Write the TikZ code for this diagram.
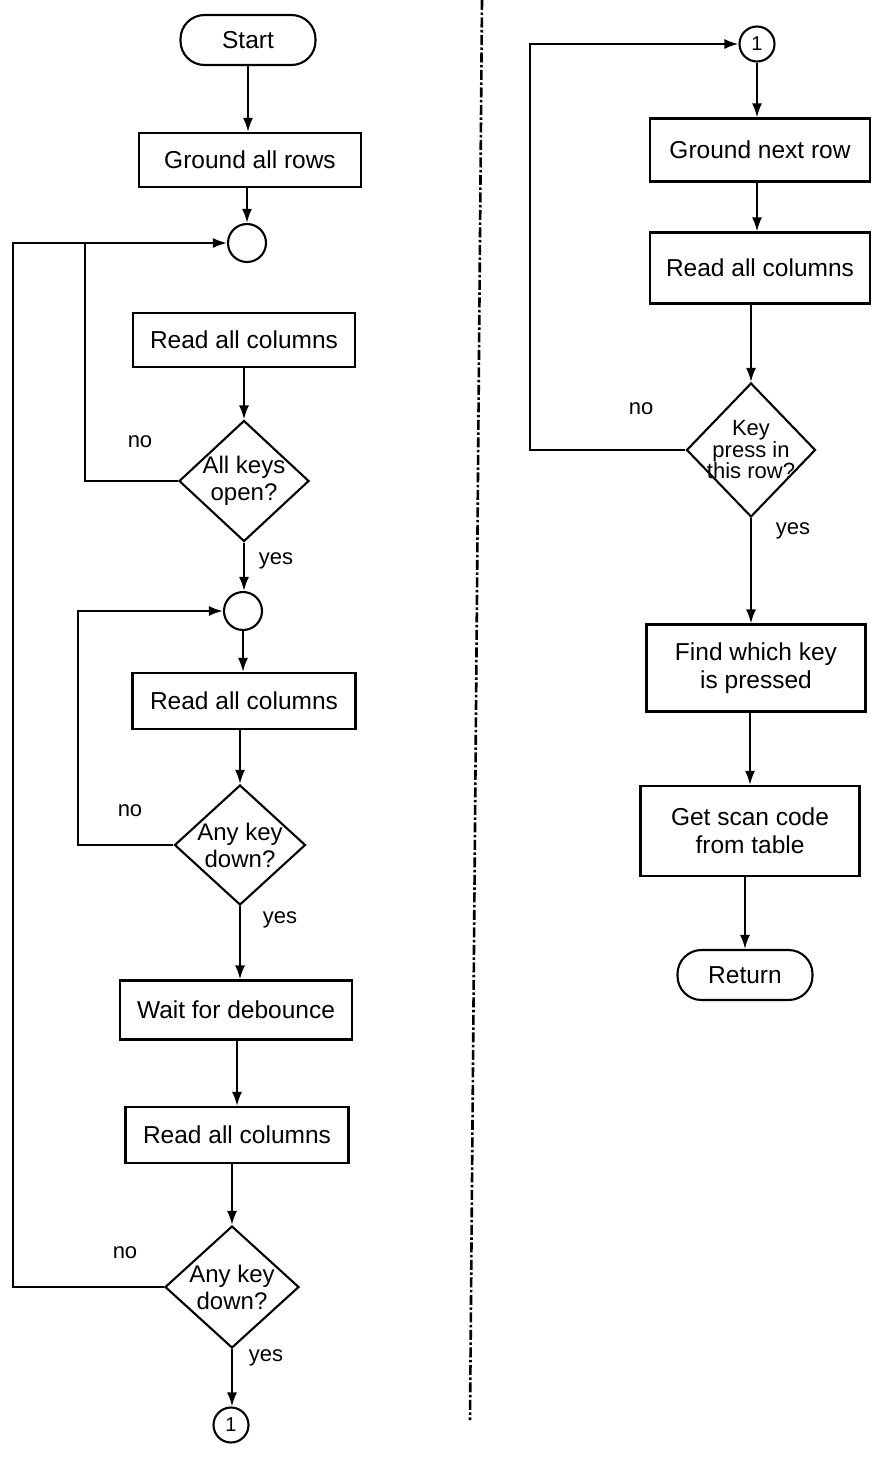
\documentclass[tikz,border=0pt]{standalone}
\usepackage{fontspec}
\setmainfont{Liberation Sans}
\usetikzlibrary{shapes.geometric,arrows.meta}
\begin{document}
\begin{tikzpicture}[x=1pt,y=-1pt,line width=2.1pt,
  >={Latex[length=14pt,width=10pt]},
  txt/.style={font=\fontsize{24.5}{28}\selectfont},
  box/.style={draw,rectangle,inner sep=0pt,align=center,txt},
  term/.style={draw,rectangle,rounded corners=24pt,inner sep=0pt,minimum width=135pt,minimum height=50pt,txt},
  dec/.style={draw,diamond,inner sep=0pt},
  dtext/.style={font=\fontsize{24}{27}\selectfont,align=center,inner sep=0pt},
  jn/.style={draw,circle,inner sep=0pt,minimum size=38pt},
  con/.style={draw,circle,inner sep=0pt,minimum size=35pt,font=\fontsize{20}{22}\selectfont},
  lbl/.style={font=\fontsize{22}{26}\selectfont,inner sep=0pt}]
\useasboundingbox (0,0) rectangle (875,1461);

% divider
\draw[line width=2.6pt,dash pattern=on 10pt off 2.5pt on 2.5pt off 2.5pt] (482,0) -- (470,1420);

% left column
\node[term] (start) at (248,40) {Start};
\node[box,minimum width=222pt,minimum height=54pt] (g1) at (250,160) {Ground all rows};
\node[jn] (cA) at (247,243) {};
\node[box,minimum width=222pt,minimum height=54pt] (r1) at (244,340) {Read all columns};
\node[dec,minimum width=130pt,minimum height=121pt,
  label={[dtext]center:All keys\\open?}] (d1) at (244,481) {};
\node[jn] (cB) at (243,611) {};
\node[box,minimum width=223pt,minimum height=56pt] (r2) at (244,701) {Read all columns};
\node[dec,minimum width=131pt,minimum height=120pt,
  label={[dtext]center:Any key\\down?}] (d2) at (240,845) {};
\node[box,minimum width=232pt,minimum height=59pt] (w) at (236,1010) {Wait for debounce};
\node[box,minimum width=223pt,minimum height=56pt] (r3) at (237,1135) {Read all columns};
\node[dec,minimum width=134pt,minimum height=122pt,
  label={[dtext]center:Any key\\down?}] (d3) at (232,1287) {};
\node[con] (c1) at (231,1425) {1};

\coordinate (o1) at (13,0);
\coordinate (i1) at (85,0);
\coordinate (i2) at (78,0);

\draw[->] (start.south) -- (start.south |- g1.north);
\draw[->] (g1.south -| cA) -- (cA.north);
\draw[->] (r1.south -| d1) -- (d1.north);
\draw[->] (d1.south) -- (d1.south |- cB.north);
\draw[->] (cB.south) -- (cB.south |- r2.north);
\draw[->] (r2.south -| d2) -- (d2.north);
\draw[->] (d2.south) -- (d2.south |- w.north);
\draw[->] (w.south -| r3) -- (r3.north);
\draw[->] (r3.south -| d3) -- (d3.north);
\draw[->] (d3.south) -- (d3.south |- c1.north);

\draw[->] (d3.west) -- (d3.west -| o1) |- (cA.west);
\draw (d1.west) -- (d1.west -| i1) -- (i1 |- cA.west);
\draw[->] (d2.west) -- (d2.west -| i2) |- (cB.west);

\node[lbl] (no1) at (140,442) {no};
\node[lbl] (yes1) at (276,561) {yes};
\node[lbl] (no2) at (130,811) {no};
\node[lbl] (yes2) at (280,920) {yes};
\node[lbl] (no3) at (125,1253) {no};
\node[lbl] (yes3) at (266,1358) {yes};

% right column
\node[con] (c2) at (757,44) {1};
\node[box,minimum width=220pt,minimum height=63pt] (g2) at (760,150) {Ground next row};
\node[box,minimum width=220pt,minimum height=71pt] (r4) at (760,268) {Read all columns};
\node[dec,minimum width=129pt,minimum height=134pt,
  label={[font=\fontsize{22}{18}\selectfont,align=center,inner sep=0pt]center:Key\\press in\\this row?}] (d4) at (751,450) {};
\node[box,minimum width=219pt,minimum height=87pt] (f) at (756,668) {Find which key\\is pressed};
\node[box,minimum width=219pt,minimum height=90pt] (s) at (750,831) {Get scan code\\from table};
\node[term] (ret) at (745,975) {Return};

\coordinate (l2) at (530,0);

\draw[->] (c2.south) -- (c2.south |- g2.north);
\draw[->] (g2.south -| c2) -- (c2 |- r4.north);
\draw[->] (r4.south -| d4) -- (d4.north);
\draw[->] (d4.south) -- (d4.south |- f.north);
\draw[->] (f.south -| s) -- (s.north);
\draw[->] (s.south -| ret) -- (ret.north);
\draw[->] (d4.west) -- (d4.west -| l2) |- (c2.west);

\node[lbl] (no4) at (641,409) {no};
\node[lbl] (yes4) at (793,531) {yes};
\end{tikzpicture}
\end{document}
